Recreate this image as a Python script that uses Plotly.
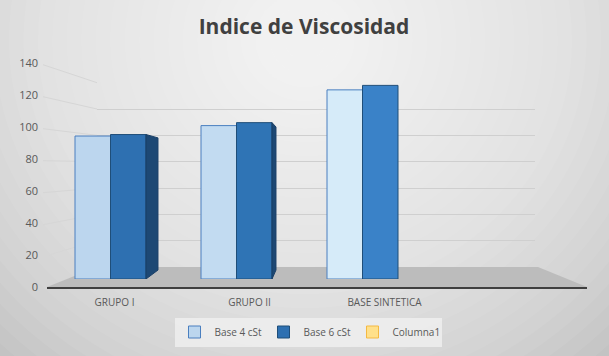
import plotly.graph_objects as go

# ---- data ----
categories = ["GRUPO I", "GRUPO II", "BASE SINTETICA"]
base4 = [96, 103, 127]
base6 = [97, 105, 130]
columna1 = [None, None, None]
y_ticks = [0, 20, 40, 60, 80, 100, 120, 140]

W, H = 609, 356
fx = lambda px: px / W
fy = lambda py: 1 - py / H

YMAX = 140
# front (label) plane, bar plane, back wall plane (pixel positions of 0 and 140)
FRONT = (286.7, 62.7)
BAR = (279.0, 70.5)
BACK = (267.0, 82.7)

c4 = ["#bcd6ee", "#c2dbf1", "#d6ebf9"]
c6 = ["#2e70b1", "#2f74b5", "#3a82c8"]

fig = go.Figure()

# Columna1 legend entry (empty series) on back-wall subplot
fig.add_trace(go.Bar(x=[0, 1, 2], y=columna1, name="Columna1",
                     marker=dict(color="#ffe08a", line=dict(color="#f4b942", width=1)),
                     xaxis="x", yaxis="y", showlegend=True))

fig.add_trace(go.Bar(x=list(range(len(categories))), y=base4, name="Base 4 cSt",
                     marker=dict(color=c4, line=dict(color="#4a7fbf", width=1)),
                     xaxis="x3", yaxis="y3"))
fig.add_trace(go.Bar(x=list(range(len(categories))), y=base6, name="Base 6 cSt",
                     marker=dict(color=c6, line=dict(color="#1f4e79", width=1)),
                     xaxis="x3", yaxis="y3"))

# invisible trace so the front label axes are drawn
fig.add_trace(go.Scatter(x=[None], y=[None], xaxis="x2", yaxis="y2",
                         showlegend=False, hoverinfo="skip"))

shapes = []
# radial-ish background
base_col = "#c3c3c3"
n = 30
for i in range(n):
    r = 420 - i * (400 / (n - 1))
    cx, cy = 305, 40
    shapes.append(dict(type="circle", xref="paper", yref="paper",
                       x0=fx(cx - r * 1.05), x1=fx(cx + r * 1.05), y0=fy(cy + r), y1=fy(cy - r),
                       fillcolor="white", opacity=0.062, line=dict(width=0), layer="below"))

# floor
shapes.append(dict(type="path", xref="paper", yref="paper",
                   path=f"M{fx(47)},{fy(287)} L{fx(587)},{fy(287)} L{fx(538)},{fy(267)} L{fx(97)},{fy(267)} Z",
                   fillcolor="#bcbcbc", line=dict(width=0), layer="below"))

# left wall diagonal gridlines
def ypix(v, plane):
    return plane[0] + (plane[1] - plane[0]) * v / YMAX
for v in y_ticks[1:]:
    shapes.append(dict(type="line", xref="paper", yref="paper",
                       x0=fx(43), y0=fy(ypix(v, FRONT) + 2), x1=fx(97), y1=fy(ypix(v, BACK)),
                       line=dict(color="#d6d6d6", width=1), layer="below"))

# side faces of the 6 cSt columns (perspective)
half = 0.2817
vanish = 1.78
k = 0.0635
for i, v in enumerate(base6):
    xe = i + half
    d = k * (vanish - xe)
    if d <= 0.005:
        continue
    bb = 6
    bt = 6 + 0.915 * v
    shapes.append(dict(type="path", xref="x3", yref="y3",
                       path=f"M{xe},0 L{xe + d},{bb} L{xe + d},{bt} L{xe},{v} Z",
                       fillcolor="#1d4874", line=dict(color="#1a3f66", width=1), layer="above"))

grid_col = "#cfcfcf"
fig.update_layout(
    width=W, height=H, autosize=False,
    margin=dict(l=0, r=0, t=0, b=0, autoexpand=False),
    paper_bgcolor=base_col, plot_bgcolor="rgba(0,0,0,0)",
    barmode="group", bargap=0.4365, bargroupgap=0,
    font=dict(family="Open Sans, Noto Sans, sans-serif", color="#595959"),
    title=dict(text="<b>Indice de Viscosidad</b>", x=fx(304), xanchor="center",
               y=fy(27), yanchor="middle", yref="paper",
               font=dict(size=21, color="#404040", family="Open Sans, sans-serif")),
    # back wall grid subplot
    xaxis=dict(domain=[fx(97), fx(535)], range=[-0.5, 3.5], visible=False),
    yaxis=dict(domain=[fy(BACK[0]), fy(BACK[1])], range=[0, YMAX], dtick=20,
               showgrid=True, gridcolor=grid_col, gridwidth=1, zeroline=False,
               showticklabels=False, ticks="", anchor="x"),
    # front label subplot
    xaxis2=dict(domain=[fx(47), fx(587)], range=[-0.5, 3.5], anchor="y2",
                tickvals=[0, 1, 2], ticktext=categories, ticks="", ticklabelstandoff=5,
                showgrid=False, zeroline=False, showline=True, linecolor="#3f3f3f", linewidth=2,
                tickfont=dict(size=10, color="#595959")),
    yaxis2=dict(domain=[fy(FRONT[0]), fy(FRONT[1])], range=[0, YMAX], tickvals=y_ticks,
                anchor="free", position=fx(38), showgrid=False, zeroline=False,
                showline=False, ticks="", tickfont=dict(size=11, color="#595959")),
    # bars subplot
    xaxis3=dict(domain=[fx(47.5), fx(551.5)], range=[-0.5, 3.5], visible=False, anchor="y3"),
    yaxis3=dict(domain=[fy(BAR[0]), fy(BAR[1])], range=[0, YMAX], visible=False, anchor="x3"),
    legend=dict(orientation="h", x=fx(308), xanchor="center", y=fy(332), yanchor="middle",
                xref="container", yref="container",
                bgcolor="rgba(238,238,238,0.85)", font=dict(size=10, color="#595959"),
                traceorder="normal", itemwidth=30, entrywidth=44, entrywidthmode="pixels"),
    shapes=shapes,
)

# legend order: Base 4, Base 6, Columna1
fig.data[0].legendrank = 3
fig.data[1].legendrank = 1
fig.data[2].legendrank = 2

fig.write_html("out.html", config={"displayModeBar": False},
               post_script="document.body.style.margin='0px';")
